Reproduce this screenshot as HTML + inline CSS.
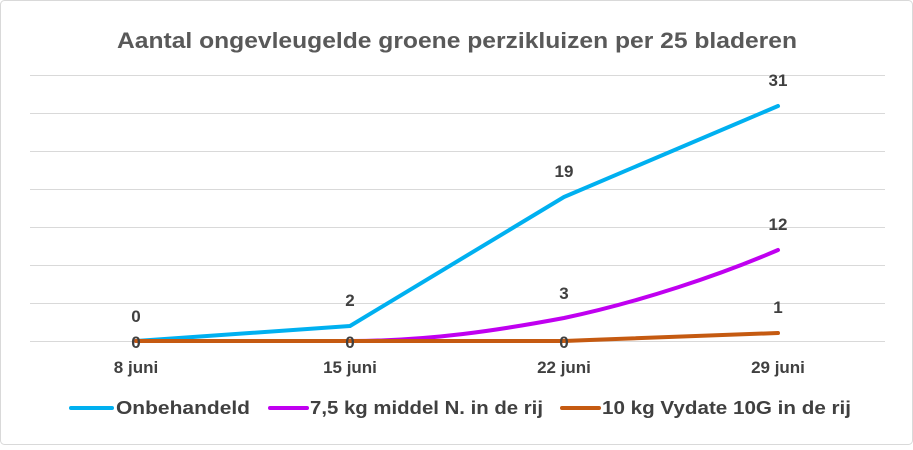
<!DOCTYPE html>
<html><head><meta charset="utf-8"><style>
html,body{margin:0;padding:0;background:#fff;}
svg text{font-family:"Liberation Sans",sans-serif;}
</style></head><body>
<svg width="913" height="445" viewBox="0 0 913 445" xmlns="http://www.w3.org/2000/svg">
<rect x="0.5" y="0.5" width="912" height="444" fill="#fff" stroke="#d9d9d9" rx="4"/>
<text x="117" y="48" font-size="22" font-weight="bold" fill="#595959" textLength="680" lengthAdjust="spacingAndGlyphs">Aantal ongevleugelde groene perzikluizen per 25 bladeren</text>
<g stroke="#d9d9d9" stroke-width="1">
<line x1="30" x2="885" y1="75.5" y2="75.5"/>
<line x1="30" x2="885" y1="113.5" y2="113.5"/>
<line x1="30" x2="885" y1="151.5" y2="151.5"/>
<line x1="30" x2="885" y1="189.5" y2="189.5"/>
<line x1="30" x2="885" y1="227.5" y2="227.5"/>
<line x1="30" x2="885" y1="265.5" y2="265.5"/>
<line x1="30" x2="885" y1="303.5" y2="303.5"/>
<line x1="30" x2="885" y1="341.5" y2="341.5"/>
</g>
<g fill="none" stroke-width="4" stroke-linejoin="round" stroke-linecap="round">
<polyline stroke="#00b0f0" points="136,341 350,326 564,197 778,106"/>
<path stroke="#c000f0" d="M136,341 L350,341 C430,341 500,330 564,318 C640,302 720,275 778,250"/>
<path stroke="#c55a11" d="M136,341 L564,341 C640,338 720,335 778,333"/>
</g>
<g font-size="17" font-weight="bold" fill="#404040" text-anchor="middle">
<text x="136" y="322">0</text>
<text x="350" y="306">2</text>
<text x="564" y="177">19</text>
<text x="778" y="86">31</text>
<text x="564" y="299">3</text>
<text x="778" y="230">12</text>
<text x="778" y="313">1</text>
<text x="136" y="348">0</text>
<text x="350" y="348">0</text>
<text x="564" y="348">0</text>
</g>
<g font-size="17" font-weight="bold" fill="#404040" text-anchor="middle">
<text x="136" y="373">8 juni</text>
<text x="350" y="373">15 juni</text>
<text x="564" y="373">22 juni</text>
<text x="778" y="373">29 juni</text>
</g>
<g stroke-width="4" stroke-linecap="round">
<line x1="71" x2="112" y1="408" y2="408" stroke="#00b0f0"/>
<line x1="270" x2="307" y1="408" y2="408" stroke="#c000f0"/>
<line x1="562" x2="599" y1="408" y2="408" stroke="#c55a11"/>
</g>
<g font-size="18" font-weight="bold" fill="#404040">
<text x="116" y="414" textLength="134" lengthAdjust="spacingAndGlyphs">Onbehandeld</text>
<text x="310" y="414" textLength="233" lengthAdjust="spacingAndGlyphs">7,5 kg middel N. in de rij</text>
<text x="602" y="414" textLength="249" lengthAdjust="spacingAndGlyphs">10 kg Vydate 10G in de rij</text>
</g>
</svg>
</body></html>
